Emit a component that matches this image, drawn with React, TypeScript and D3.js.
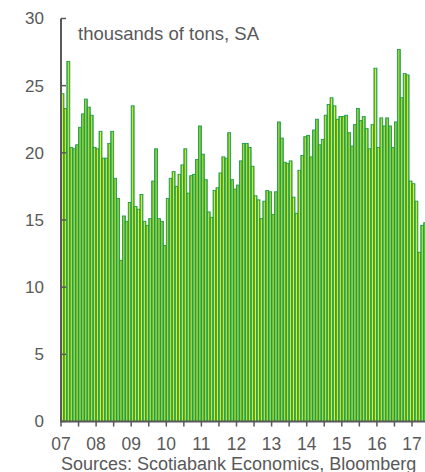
import React, { useRef, useEffect } from 'react';
import * as d3 from 'd3';

// monthly values, Jan 2007 onwards (thousands of tons, SA)
const startYear = 2007;
const values = [
  24.4, 23.3, 26.8, 20.4, 20.3, 20.6, 21.9, 22.9, 24.0, 23.4, 22.8, 20.4,
  20.3, 21.6, 19.6, 19.6, 20.7, 21.6, 18.1, 16.6, 12.0, 15.3, 14.9, 16.3,
  23.5, 16.0, 15.8, 16.9, 14.9, 14.6, 15.1, 17.9, 20.3, 15.1, 14.9, 13.1,
  16.6, 18.1, 18.6, 17.5, 18.4, 19.1, 20.3, 17.0, 18.3, 18.4, 19.5, 22.0,
  19.9, 18.0, 15.6, 15.2, 17.2, 17.4, 18.5, 19.7, 19.6, 21.5, 18.0, 17.3,
  17.6, 19.4, 20.7, 20.7, 20.4, 19.0, 16.8, 16.5, 15.1, 16.4, 17.2, 17.1,
  15.4, 17.1, 22.3, 21.1, 19.3, 19.2, 19.4, 16.7, 15.5, 18.7, 19.8, 21.2,
  21.3, 19.7, 21.7, 22.5, 20.6, 21.0, 22.8, 23.6, 24.1, 23.5, 22.5, 22.7,
  22.7, 22.8, 21.5, 20.5, 22.1, 23.3, 22.4, 22.7, 21.8, 20.3, 22.1, 26.3,
  20.4, 22.6, 22.0, 22.6, 22.0, 20.4, 22.3, 27.7, 24.1, 25.9, 25.8, 17.9,
  17.7, 16.4, 12.6, 14.6, 14.8
];
const yTicks = [0, 5, 10, 15, 20, 25, 30];
const yearLabels = ['07', '08', '09', '10', '11', '12', '13', '14', '15', '16', '17'];

const unitLabel = 'thousands of tons, SA';
const sourceLabel = 'Sources: Scotiabank Economics, Bloomberg';

export default function App() {
  const ref = useRef<SVGSVGElement>(null);

  useEffect(() => {
    const width = 425;
    const font = '"Liberation Sans", Arial, sans-serif';
    const grey = '#595959';

    const svg = d3.select(ref.current);
    svg.selectAll('*').remove();

    // scales
    const x = d3.scaleLinear().domain([2007, 2017]).range([61, 412]);
    const y = d3.scaleLinear().domain([0, 30]).range([421.5, 18.5]);
    const step = x(startYear + 1 / 12) - x(startYear);

    // bar gradient: green edges, yellow centre
    const grad = svg.append('defs').append('linearGradient')
      .attr('id', 'barGrad')
      .attr('x1', '0%').attr('x2', '100%')
      .attr('y1', '0%').attr('y2', '0%');
    grad.append('stop').attr('offset', '0%').attr('stop-color', '#4fb447');
    grad.append('stop').attr('offset', '30%').attr('stop-color', '#6cc046');
    grad.append('stop').attr('offset', '50%').attr('stop-color', '#f0ee1c');
    grad.append('stop').attr('offset', '70%').attr('stop-color', '#6cc046');
    grad.append('stop').attr('offset', '100%').attr('stop-color', '#4fb447');

    // bars
    svg.append('g')
      .selectAll('rect')
      .data(values)
      .join('rect')
      .attr('x', (d, i) => x(startYear + i / 12))
      .attr('y', d => y(d))
      .attr('width', step)
      .attr('height', d => y(0) - y(d))
      .attr('fill', 'url(#barGrad)')
      .attr('stroke', '#1e9c4b')
      .attr('stroke-width', 0.9);

    // y axis
    const yAxis = svg.append('g');
    yAxis.append('line')
      .attr('x1', x(2007)).attr('x2', x(2007))
      .attr('y1', y(30)).attr('y2', y(0))
      .attr('stroke', grey).attr('stroke-width', 2);
    yAxis.selectAll('line.tick')
      .data(yTicks)
      .join('line')
      .attr('class', 'tick')
      .attr('x1', x(2007)).attr('x2', x(2007) + 5)
      .attr('y1', d => y(d)).attr('y2', d => y(d))
      .attr('stroke', grey).attr('stroke-width', 1.5);
    yAxis.selectAll('text')
      .data(yTicks)
      .join('text')
      .attr('x', 44)
      .attr('y', d => y(d))
      .attr('dy', '0.35em')
      .attr('text-anchor', 'end')
      .attr('font-family', font)
      .attr('font-size', 17)
      .attr('fill', grey)
      .text(d => d);

    // x axis
    const xAxis = svg.append('g');
    xAxis.append('line')
      .attr('x1', x(2007) - 1).attr('x2', width)
      .attr('y1', y(0)).attr('y2', y(0))
      .attr('stroke', grey).attr('stroke-width', 2);
    const halfYears = d3.range(0, 22).map(i => 2007 + i / 2);
    xAxis.selectAll('line.tick')
      .data(halfYears)
      .join('line')
      .attr('class', 'tick')
      .attr('x1', d => x(d)).attr('x2', d => x(d))
      .attr('y1', y(0)).attr('y2', y(0) + 5)
      .attr('stroke', grey).attr('stroke-width', 1.5);
    xAxis.selectAll('text')
      .data(yearLabels)
      .join('text')
      .attr('x', (d, i) => x(2007 + i))
      .attr('y', 450)
      .attr('text-anchor', 'middle')
      .attr('font-family', font)
      .attr('font-size', 17.5)
      .attr('fill', grey)
      .text(d => d);

    // labels
    svg.append('text')
      .attr('x', 78).attr('y', 40)
      .attr('font-family', font)
      .attr('font-size', 18.5)
      .attr('fill', grey)
      .text(unitLabel);

    svg.append('text')
      .attr('x', 61).attr('y', 470)
      .attr('font-family', font)
      .attr('font-size', 18)
      .attr('fill', grey)
      .text(sourceLabel);
  }, []);

  return (
    <svg
      ref={ref}
      width={425}
      height={472}
      style={{ position: 'absolute', left: 0, top: 0, background: '#fff' }}
    />
  );
}
